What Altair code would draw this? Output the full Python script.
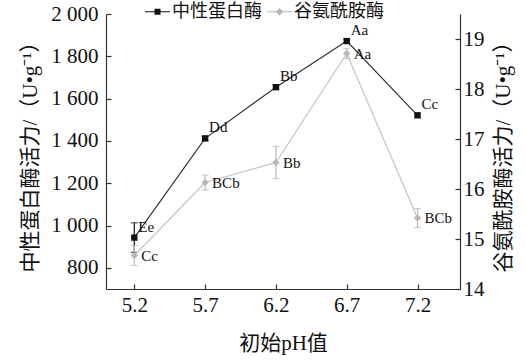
import altair as alt
import pandas as pd

# ---------------- data ----------------
ph = [5.2, 5.7, 6.2, 6.7, 7.2]
protease = [943, 1412, 1654, 1872, 1521]
protease_err = [70, 10, 10, 10, 10]
protease_labels = ["Ee", "Dd", "Bb", "Aa", "Cc"]
glut = [14.67, 16.13, 16.53, 18.71, 15.42]
glut_err = [0.2, 0.15, 0.32, 0.1, 0.19]
glut_labels = ["Cc", "BCb", "Bb", "Aa", "BCb"]
series_names = ["中性蛋白酶", "谷氨酰胺酶"]
left_ticks = [800, 1000, 1200, 1400, 1600, 1800, 2000]
right_ticks = [14, 15, 16, 17, 18, 19]

dfP = pd.DataFrame({"ph": ph, "val": protease,
                    "lo": [v - e for v, e in zip(protease, protease_err)],
                    "hi": [v + e for v, e in zip(protease, protease_err)],
                    "lab": protease_labels})
dfG = pd.DataFrame({"ph": ph, "val": glut,
                    "lo": [v - e for v, e in zip(glut, glut_err)],
                    "hi": [v + e for v, e in zip(glut, glut_err)],
                    "lab": glut_labels})

FONT = "Liberation Serif, Noto Sans CJK SC"
W, H = 354, 275
INK = "#111111"
GRAY = "#b8b8b8"
INWARD = {"expr": "-5"}

xscale = alt.Scale(domain=[5.0, 7.5], nice=False, zero=False)
x_axis = alt.Axis(values=ph, format=".1f", title="初始pH值", ticks=True, tickSize=INWARD,
                  labelPadding=10, titlePadding=17)

yL_scale = alt.Scale(domain=[700, 2000], nice=False, zero=False)
yR_scale = alt.Scale(domain=[14, 19.5], nice=False, zero=False)

yL_axis = alt.Axis(orient="left", values=left_ticks,
                   labelExpr="replace(format(datum.value, ','), ',', ' ')",
                   title="中性蛋白酶活力/（U•g⁻¹）", titleFontSize=21, ticks=True, tickSize=INWARD,
                   labelPadding=13, titlePadding=10)
yR_axis = alt.Axis(orient="right", values=right_ticks, format="d",
                   title="谷氨酰胺酶活力/（U•g⁻¹）", titleFontSize=21, titleAngle=270,
                   titleBaseline="top", ticks=True, tickSize=INWARD, labelPadding=8, titlePadding=8)


def X():
    return alt.X("ph:Q", scale=xscale, axis=x_axis)


def Y(field, scale, axis):
    return alt.Y(field, scale=scale, axis=axis)


sq_path = "M-1,-0.045H1V0.045H-1Z M-0.24,-0.24H0.24V0.24H-0.24Z"
dm_path = "M-1,-0.045H1V0.045H-1Z M0,-0.3L0.3,0L0,0.3L-0.3,0Z"
leg = alt.Legend(orient="none", legendX=39, legendY=-15, direction="horizontal", title=None,
                 symbolSize=625, labelFontSize=18, labelFont=FONT, labelColor=INK,
                 symbolOpacity=1, labelOffset=2, columnPadding=5, symbolStrokeWidth=0)

# ---------------- left (protease) ----------------
lineP = alt.Chart(dfP).mark_line(color="#333333", strokeWidth=1.2).encode(
    x=X(), y=Y("val:Q", yL_scale, yL_axis))
errP = alt.Chart(dfP).mark_errorbar(ticks=True, size=7, color=INK, thickness=1.2).encode(
    x=X(), y=Y("lo:Q", yL_scale, yL_axis), y2="hi:Q")
ptsP = alt.Chart(dfP).mark_point(shape="square", filled=True, size=40, color=INK, opacity=1).encode(
    x=X(), y=Y("val:Q", yL_scale, yL_axis))
txtP = alt.Chart(dfP).mark_text(align="left", baseline="middle", dx=4, dy=-11, fontSize=15,
                                font=FONT, color=INK).encode(
    x=X(), y=Y("val:Q", yL_scale, yL_axis), text="lab:N")
legend_layer = alt.Chart(dfP).mark_point(filled=True, opacity=0).encode(
    x=X(), y=Y("val:Q", yL_scale, yL_axis),
    color=alt.Color("s:N", scale=alt.Scale(domain=series_names, range=[INK, GRAY]), legend=leg),
    shape=alt.Shape("s:N", scale=alt.Scale(domain=series_names, range=[sq_path, dm_path]), legend=leg)
).transform_calculate(s="'中性蛋白酶'")

left_group = alt.layer(lineP, errP, ptsP, txtP, legend_layer)

# ---------------- right (glutaminase) ----------------
lineG = alt.Chart(dfG).mark_line(color="#c4c4c4", strokeWidth=1.2).encode(
    x=X(), y=Y("val:Q", yR_scale, yR_axis))
errG = alt.Chart(dfG).mark_errorbar(ticks=True, size=7, color=GRAY, thickness=1.2).encode(
    x=X(), y=Y("lo:Q", yR_scale, yR_axis), y2="hi:Q")
ptsG = alt.Chart(dfG).mark_point(shape="diamond", filled=True, size=55, color=GRAY, opacity=1).encode(
    x=X(), y=Y("val:Q", yR_scale, yR_axis))
txtG = alt.Chart(dfG).mark_text(align="left", baseline="middle", dx=7, dy=0, fontSize=15,
                                font=FONT, color=INK).encode(
    x=X(), y=Y("val:Q", yR_scale, yR_axis), text="lab:N")

right_group = alt.layer(lineG, errG, ptsG, txtG)

chart = (
    alt.layer(left_group, right_group)
    .resolve_scale(y="independent")
    .properties(width=W, height=H,
                autosize=alt.AutoSizeParams(type="none"),
                padding={"left": 106, "top": 14, "right": 66, "bottom": 71})
    .configure_view(stroke=None)
    .configure_axis(grid=False, domainColor="#333333", domainWidth=1.2, tickColor="#333333",
                    tickWidth=1.2, labelFont=FONT, labelFontSize=21, labelColor=INK,
                    titleFont=FONT, titleFontSize=21, titleFontWeight="normal", titleColor=INK)
)

chart.save("out.html", embed_options={"renderer": "svg", "actions": False})
